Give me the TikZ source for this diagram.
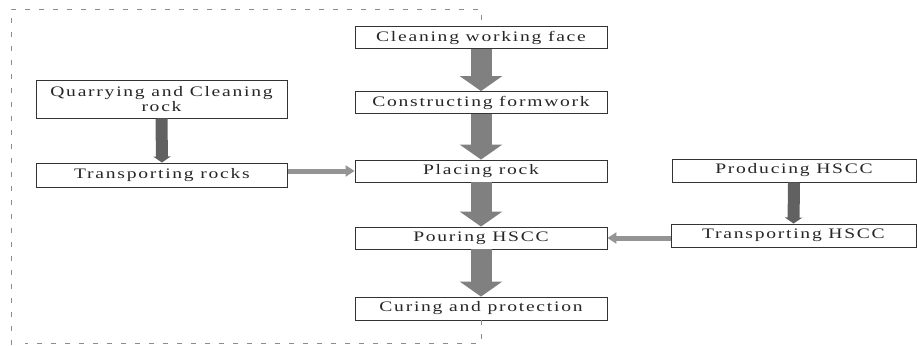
\documentclass[tikz,border=0pt]{standalone}
\usepackage{fontspec}
\usepackage{tikz}
\usetikzlibrary{arrows.meta}
\newfontfamily\boxfont[FakeStretch=1.35,LetterSpace=12]{Liberation Serif}
\newcommand{\colw}[0] {252}

\tikzset{
    stepbox/.style={shape=rectangle, draw=black!80, line width=0.9pt, inner sep=0pt,
        font=\boxfont\fontsize{14.5}{15}\selectfont, text=black!85, align=center},
    bigarrow/.style={line width=21pt, color=black!50, -{Triangle[width=42pt,length=15pt]}},
    sidearrow/.style={line width=12pt, color=black!62, -{Triangle[width=17pt,length=6pt]}},
    feedarrow/.style={line width=5pt, color=black!42, -{Triangle[width=11pt,length=9pt]}},
    frameline/.style={draw=black!45, line width=0.8pt, dash pattern=on 5pt off 9pt}
}

\begin{document}
\begin{tikzpicture}[x=1pt, y=-1pt]
        \useasboundingbox (0,0) rectangle (917,345);

        % main column
        \node[stepbox, minimum width=\colw, minimum height=22] (clean) at (481, 37.5)  {Cleaning working face};
        \node[stepbox, minimum width=\colw, minimum height=22] (form)  at (481, 102.5) {Constructing formwork};
        \node[stepbox, minimum width=\colw, minimum height=22] (place) at (481, 171)   {Placing rock};
        \node[stepbox, minimum width=\colw, minimum height=22] (pour)  at (481, 238)   {Pouring HSCC};
        \node[stepbox, minimum width=\colw, minimum height=23] (cure)  at (481, 308.5) {Curing and protection};

        % rock branch
        \node[stepbox, minimum width=251, minimum height=38] (quarry)    at (161.5, 99) {Quarrying and Cleaning\\rock};
        \node[stepbox, minimum width=251, minimum height=24] (transrock) at (162, 175)  {Transporting rocks};

        % HSCC branch
        \node[stepbox, minimum width=244, minimum height=23] (produce)   at (794, 170.5) {Producing HSCC};
        \node[stepbox, minimum width=245, minimum height=23] (transhscc) at (793.5, 235.5) {Transporting HSCC};

        %flow of main column
        \draw[bigarrow] (clean.south) -- (form.north);
        \draw[bigarrow] (form.south) -- (place.north);
        \draw[bigarrow] (place.south) -- (pour.north);
        \draw[bigarrow] (pour.south) -- (cure.north);

        \draw[sidearrow] (quarry.south) -- (transrock.north);
        \draw[sidearrow] (produce.south) -- (transhscc.north);

        \draw[feedarrow] (transrock.east |- place.west) -- (place.west);
        \draw[feedarrow] (transhscc.west |- pour.east) -- (pour.east);

        % dashed frame
        \draw[frameline] (11,345) -- (11,9) -- (481,9) -- (clean.north);
        \draw[frameline] (cure.south) -- (481,343) -- (25,343);
\end{tikzpicture}
\end{document}
